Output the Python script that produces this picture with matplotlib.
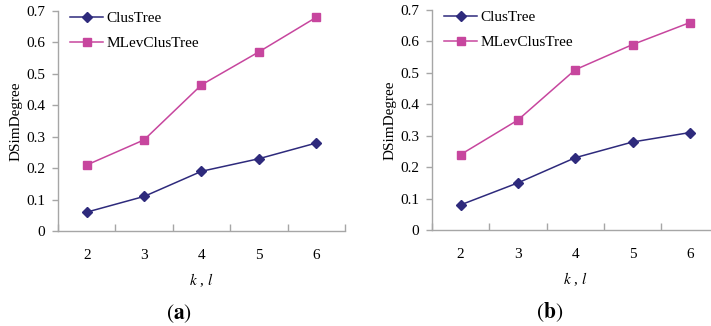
import matplotlib
matplotlib.use("Agg")
import matplotlib.pyplot as plt

matplotlib.rcParams["mathtext.fontset"] = "stix"

k_values = [2, 3, 4, 5, 6]
series_names = ["ClusTree", "MLevClusTree"]

clustree_a = [0.06, 0.11, 0.19, 0.23, 0.28]
mlev_a = [0.21, 0.29, 0.465, 0.57, 0.68]

clustree_b = [0.08, 0.15, 0.23, 0.28, 0.31]
mlev_b = [0.24, 0.35, 0.51, 0.59, 0.66]

y_ticks = [0, 0.1, 0.2, 0.3, 0.4, 0.5, 0.6, 0.7]
y_tick_labels = ["0", "0.1", "0.2", "0.3", "0.4", "0.5", "0.6", "0.7"]
panel_labels = ["a", "b"]

navy = "#2E2A7C"
magenta = "#C7469E"
axis_gray = "#A6A6A6"
serif = "Liberation Serif"

fig = plt.figure(figsize=(7.11, 3.26), dpi=100)

panels = [
    ([58 / 711, 95 / 326, 287 / 711, 220 / 326], clustree_a, mlev_a, panel_labels[0], 0.42),
    ([432 / 711, 96 / 326, 286.5 / 711, 220 / 326], clustree_b, mlev_b, panel_labels[1], 0.41),
]

for rect, s1, s2, tag, tag_x in panels:
    ax = fig.add_axes(rect)
    ax.plot(k_values, s1, color=navy, lw=1.1, marker="D", ms=5, label=series_names[0])
    ax.plot(k_values, s2, color=magenta, lw=1.1, marker="s", ms=5.5, label=series_names[1])

    ax.set_xlim(1.5, 6.5)
    ax.set_ylim(0, 0.7)
    for side in ("top", "right"):
        ax.spines[side].set_visible(False)
    for side in ("left", "bottom"):
        ax.spines[side].set_color(axis_gray)
        ax.spines[side].set_linewidth(1.0)

    ax.set_yticks(y_ticks)
    ax.set_yticklabels(y_tick_labels, fontfamily=serif, fontsize=11)
    ax.tick_params(axis="y", direction="out", length=4, width=1.0, color=axis_gray, pad=5)

    # category axis: ticks at boundaries, labels centred between them
    ax.set_xticks([1.5, 2.5, 3.5, 4.5, 5.5, 6.5])
    ax.set_xticklabels([])
    ax.set_xticks(k_values, minor=True)
    ax.set_xticklabels([str(k) for k in k_values], minor=True, fontfamily=serif, fontsize=11)
    ax.tick_params(axis="x", which="major", direction="in", length=5, width=1.0, color=axis_gray)
    ax.tick_params(axis="x", which="minor", length=0, pad=13)

    ax.set_ylabel("DSimDegree", fontfamily=serif, fontsize=11, labelpad=2.5)
    ax.set_xlabel(r"$k$ , $l$", fontfamily=serif, fontsize=11, labelpad=7)

    ax.legend(loc="upper left", bbox_to_anchor=(0.02, 1.025), frameon=False,
              prop={"family": serif, "size": 11}, handlelength=2.2,
              handletextpad=0.2, labelspacing=0.75, borderaxespad=0)

    ax.text(tag_x, -0.375, r"$\mathrm{(}\mathbf{" + tag + r"}\mathrm{)}$", transform=ax.transAxes,
            ha="center", va="center", fontsize=15.5)

fig.savefig("out.png", dpi=100)
